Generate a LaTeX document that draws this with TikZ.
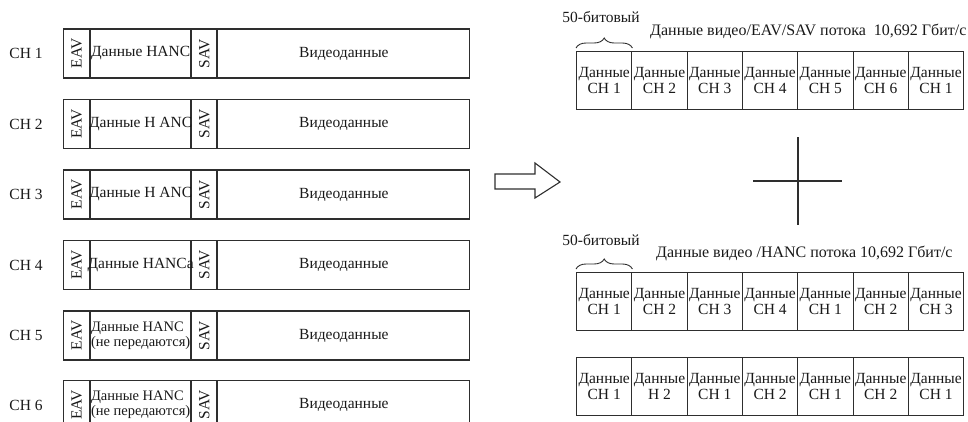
\documentclass[tikz,border=0pt]{standalone}
\usepackage{fontspec}
\setmainfont{Liberation Serif}
\usepackage{graphicx}
\usetikzlibrary{decorations.pathreplacing}

\tikzset{
  ink/.style = {draw = black!82, line width = 1.1pt},
  fld/.style = {ink, inner sep = 0pt, minimum height = 49pt, anchor = west},
  cell/.style = {ink, inner sep = 0pt, minimum width = 55.3pt, minimum height = 58pt,
                 anchor = north west, align = center},
  twoline/.style = {align = left, font = \fontsize{14.5}{15}\selectfont},
  title/.style = {anchor = west, inner sep = 0pt, font = \fontsize{16}{16}\selectfont},
  every node/.append style = {text = black!90, font = \fontsize{15.5}{16}\selectfont}
}

\begin{document}
\begin{tikzpicture}[x = 1pt, y = -1pt]
    \useasboundingbox (0,0) rectangle (968,421);
    % channels on the left
    \foreach \row/\ypos in {1/53.5, 2/124, 3/194.5, 4/265, 5/335.5, 6/405} {
        \node (ch\row) at (26,\ypos) {CH \row};
        \node[fld, minimum width = 26pt] (eav\row) at (63,\ypos) {};
        \node[fld, minimum width = 100pt] (hanc\row) at (eav\row.east) {};
        \node[fld, minimum width = 25pt] (sav\row) at (hanc\row.east) {};
        \node[fld, minimum width = 252pt] (vid\row) at (sav\row.east) {Видеоданные};
        \node[rotate = 90] (eavt\row) at (eav\row.center) {EAV};
        \node[rotate = 90] (savt\row) at (sav\row.center) {SAV};
    }
    \node (hanct1) at (hanc1.center) {Данные HANC};
    \node (hanct2) at (hanc2.center) {Данные H ANC};
    \node (hanct3) at (hanc3.center) {Данные H ANC};
    \node (hanct4) at (hanc4.center) {Данные HANCа};
    \node[twoline] (hanct5) at (hanc5.center) {Данные HANC\\(не передаются)};
    \node[twoline] (hanct6) at (hanc6.center) {Данные HANC\\(не передаются)};
    % hollow arrow
    \draw[ink] (495,174) -- (535,174) -- (535,163) -- (560,182) -- (535,198)
        -- (535,189) -- (495,189) -- cycle;
    % cross
    \draw[ink, line width = 1.3pt] (798,137) -- (798,225);
    \draw[ink, line width = 1.3pt] (753,181) -- (842,181);
    % streams on the right
    \foreach \k/\chn in {1/CH 1, 2/CH 2, 3/CH 3, 4/CH 4, 5/CH 5, 6/CH 6, 7/CH 1}
        \node[cell] (a\k) at ({576+(\k-1)*55.3},51) {Данные\\\chn};
    \foreach \k/\chn in {1/CH 1, 2/CH 2, 3/CH 3, 4/CH 4, 5/CH 1, 6/CH 2, 7/CH 3}
        \node[cell] (b\k) at ({576+(\k-1)*55.3},272) {Данные\\\chn};
    \foreach \k/\chn in {1/CH 1, 2/H 2, 3/CH 1, 4/CH 2, 5/CH 1, 6/CH 2, 7/CH 1}
        \node[cell] (c\k) at ({576+(\k-1)*55.3},357) {Данные\\\chn};
    % braces and titles
    \draw[ink, line width = 0.9pt, decorate, decoration = {brace, amplitude = 10pt}]
        ([yshift = 3pt]a1.north west) -- ([yshift = 3pt]a1.north east);
    \draw[ink, line width = 0.9pt, decorate, decoration = {brace, amplitude = 10pt}]
        ([yshift = 3pt]b1.north west) -- ([yshift = 3pt]b1.north east);
    \node (bitsa) at (601,17) {50-битовый};
    \node (bitsb) at (601,240) {50-битовый};
    \node[title] (titlea) at (650,31) {Данные видео/EAV/SAV потока\ \ 10,692 Гбит/с};
    \node[title] (titleb) at (656,253) {Данные видео /HANC потока 10,692 Гбит/с};
\end{tikzpicture}
\end{document}
